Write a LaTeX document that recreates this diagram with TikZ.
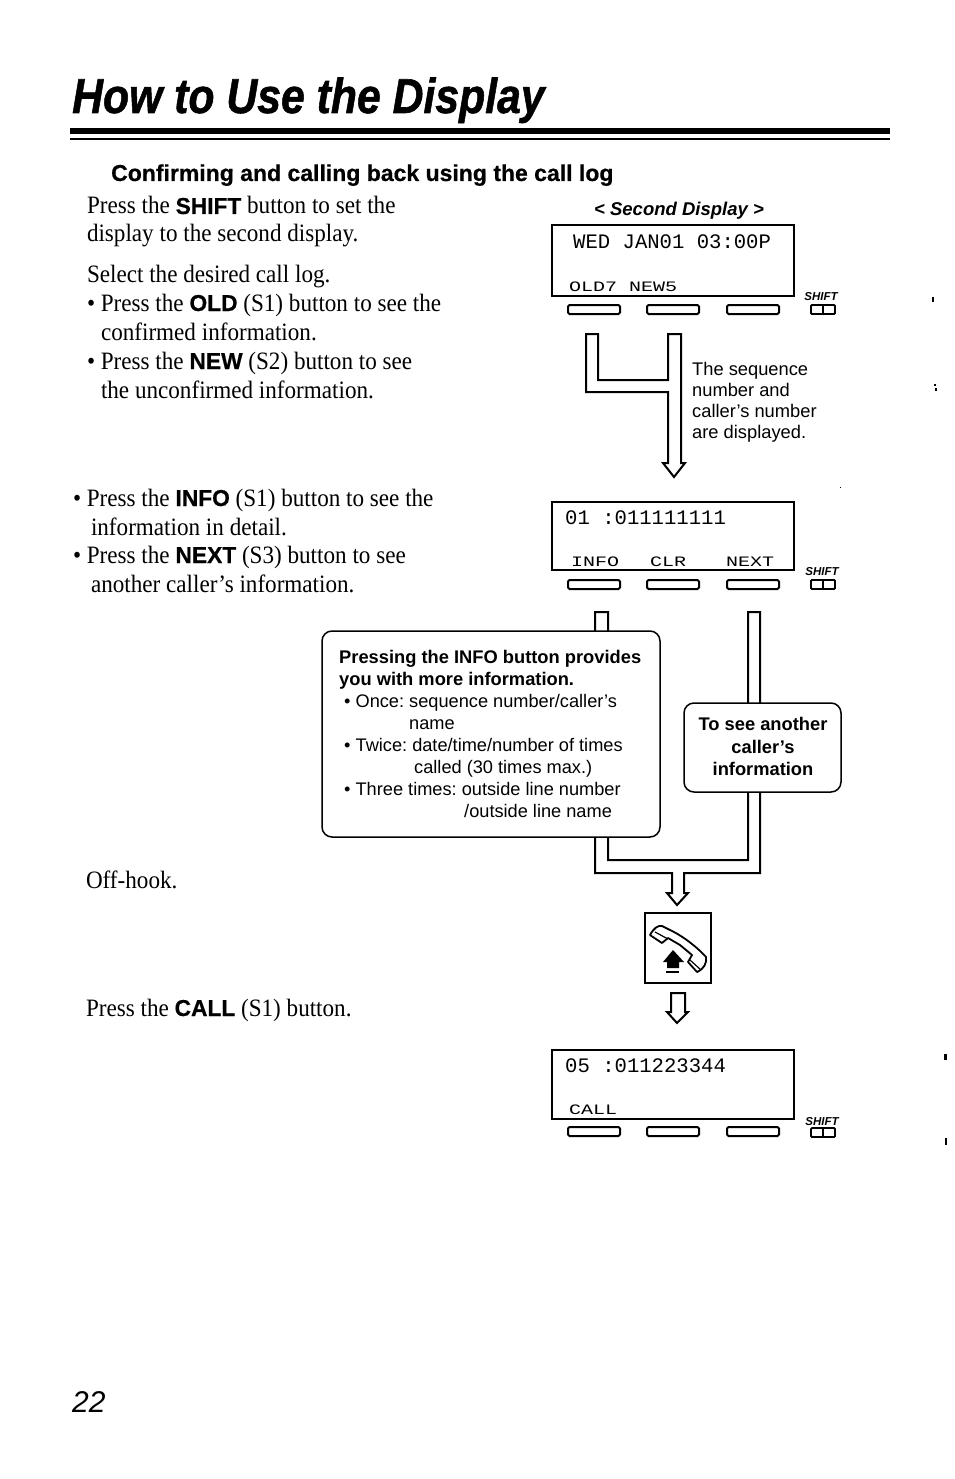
\documentclass[tikz,border=0pt]{standalone}
\usepackage{fontspec}
\setmainfont{Liberation Serif}
\setsansfont{Liberation Sans}
\setmonofont{Liberation Mono}
\frenchspacing
\newcommand{\bk}[1]{\scalebox{1.07}[1]{\fontsize{23}{29}\selectfont\sffamily\bfseries\addfontfeature{FakeBold=.6}#1}}
\tikzset{
  ln/.style={anchor=base west,inner sep=0pt,outer sep=0pt,xscale=.925,font=\fontsize{25}{29}\selectfont},
  lcdbox/.style={draw,line width=2pt,anchor=north west,minimum width=242pt,inner sep=0pt,outer sep=0pt},
  softkey/.style={draw,line width=2pt,rounded corners=1.5pt,minimum width=52pt,minimum height=9pt,inner sep=0pt,outer sep=0pt,anchor=north west},
  shiftkey/.style={draw,line width=1.8pt,rounded corners=1pt,minimum width=24pt,minimum height=9pt,inner sep=0pt,outer sep=0pt,anchor=north west},
  shiftlab/.style={anchor=center,inner sep=0pt,font=\sffamily\bfseries\itshape\fontsize{11.5}{11}\selectfont},
  lcdtop/.style={anchor=base west,inner sep=0pt,font=\ttfamily\fontsize{20.6}{20}\selectfont},
  lcdlow/.style={anchor=base west,inner sep=0pt,font=\ttfamily\fontsize{20}{20}\selectfont,yscale=.72},
  callout/.style={draw,line width=1.5pt,fill=white,rounded corners=10pt,anchor=north west,inner sep=0pt,outer sep=0pt},
  flow/.style={draw,line width=2pt,fill=white,line join=miter},
  sb/.style={anchor=base west,inner sep=0pt,font=\sffamily\bfseries\fontsize{18.3}{22}\selectfont},
  sr/.style={anchor=base west,inner sep=0pt,font=\sffamily\fontsize{18.2}{22}\selectfont},
  speck/.style={fill=black},
}
\begin{document}
\begin{tikzpicture}[x=1pt,y=-1pt]
\useasboundingbox (0,0) rectangle (954,1479);
% heading
\node[anchor=base west,inner sep=0pt,font=\sffamily\bfseries\itshape\fontsize{49}{50}\selectfont\addfontfeature{FakeBold=1.2},xscale=.872] (title) at (72,113) {How to Use the Display};
\fill (70,128) rectangle (890,134);
\fill (70,138.5) rectangle (890,140);
\node[anchor=base west,inner sep=0pt,font=\sffamily\bfseries\fontsize{23}{26}\selectfont\addfontfeature{FakeBold=.6}] (sec) at (111,181) {Confirming and calling back using the call log};
% left text
\node[ln] (l1) at (87,214) {Press the \bk{SHIFT} button to set the};
\node[ln] (l2) at (87,242) {display to the second display.};
\node[ln] (l3) at (87,282) {Select the desired call log.};
\node[ln] (l4) at (87,311) {• Press the \bk{OLD} (S1) button to see the};
\node[ln] (l5) at (101,340) {confirmed information.};
\node[ln] (l6) at (87,369) {• Press the \bk{NEW} (S2) button to see};
\node[ln] (l7) at (101,398) {the unconfirmed information.};
\node[ln] (l8) at (73,506) {• Press the \bk{INFO} (S1) button to see the};
\node[ln] (l9) at (91,535) {information in detail.};
\node[ln] (l10) at (73,563) {• Press the \bk{NEXT} (S3) button to see};
\node[ln] (l11) at (91,592) {another caller's information.};
\node[ln] (l12) at (86,888) {Off-hook.};
\node[ln] (l13) at (86,1016) {Press the \bk{CALL} (S1) button.};
\node[anchor=base west,inner sep=0pt,font=\sffamily\itshape\fontsize{30}{30}\selectfont] (page) at (72,1412) {22};
% display 1
\node[anchor=center,inner sep=0pt,font=\sffamily\bfseries\itshape\fontsize{18.5}{18}\selectfont] (sd) at (679,211) {< Second Display >};
\node[lcdbox,minimum height=71pt] (d1) at (552,225) {};
\node[lcdtop] (d1a) at (573,248) {WED JAN01 03:00P};
\node[lcdlow] (d1b) at (569,291) {OLD7 NEW5};
\node[softkey] (k11) at (568,305) {};
\node[softkey] (k12) at (647,305) {};
\node[softkey] (k13) at (727,305) {};
\node[shiftlab] (s1) at (821,297) {SHIFT};
\node[shiftkey] (sk1) at (811,305) {};
\draw[line width=1.4pt] (sk1.north) -- (sk1.south);
% arrow 1
\draw[flow] (586,334) -- (598,334) -- (598,380) -- (668,380) -- (668,334) -- (681,334) -- (681,463) -- (685,463) -- (674,477) -- (663,463) -- (668,463) -- (668,392) -- (586,392) -- cycle;
\node[anchor=north west,align=left,inner sep=0pt,font=\sffamily\fontsize{18.3}{21}\selectfont] (seq) at (692,362) {The sequence\\number and\\caller's number\\are displayed.};
% display 2
\node[lcdbox,minimum height=68pt] (d2) at (552,502) {};
\node[lcdtop] (d2a) at (565,524) {01 :011111111};
\node[lcdlow] (d2b) at (571,566) {INFO};
\node[lcdlow] (d2c) at (650,566) {CLR};
\node[lcdlow] (d2d) at (726,566) {NEXT};
\node[softkey] (k21) at (568,580) {};
\node[softkey] (k22) at (647,580) {};
\node[softkey] (k23) at (727,580) {};
\node[shiftlab] (s2) at (822,572) {SHIFT};
\node[shiftkey] (sk2) at (811,580) {};
\draw[line width=1.4pt] (sk2.north) -- (sk2.south);
% branching arrow
\draw[flow] (595,612) -- (608,612) -- (608,860) -- (748,860) -- (748,612) -- (760,612) -- (760,873) -- (684,873) -- (684,893) -- (688,893) -- (677,905) -- (667,893) -- (672,893) -- (672,873) -- (595,873) -- cycle;
% callouts
\node[callout,minimum width=338pt,minimum height=206pt] (info) at (322,631) {};
\node[sb] (i1) at (339,663) {Pressing the INFO button provides};
\node[sb] (i2) at (339,685) {you with more information.};
\node[sr] (i3) at (344,707) {• Once: sequence number/caller's};
\node[sr] (i4) at (409,729) {name};
\node[sr] (i5) at (344,751) {• Twice: date/time/number of times};
\node[sr] (i6) at (414,773) {called (30 times max.)};
\node[sr] (i7) at (344,795) {• Three times: outside line number};
\node[sr] (i8) at (464,817) {/outside line name};
\node[callout,minimum width=157pt,minimum height=89pt] (see) at (684,703) {};
\node[anchor=center,align=center,inner sep=0pt,font=\sffamily\bfseries\fontsize{18.3}{22.5}\selectfont] (seet) at (763,746.5) {To see another\\caller's\\information};
% phone
\node[draw,line width=2pt,anchor=north west,minimum width=66pt,minimum height=70pt,inner sep=0pt,outer sep=0pt] (hook) at (645,913) {};
\draw[line width=1.8pt,fill=white,line join=round] (650,935) .. controls (654,928) and (658,925) .. (662,926) -- (670,930) .. controls (685,937) and (700,950) .. (706,957) .. controls (707,963) and (704,969) .. (697,972) -- (688,962) -- (692,955) -- (680,945) -- (668,938) -- (662,943) -- cycle;
\draw[line width=1.2pt] (655,932) -- (668,939);
\draw[line width=1.2pt] (690,960) -- (701,970);
\fill (673,950) -- (684,962) -- (679,962) -- (679,968) -- (667,968) -- (667,962) -- (663,962) -- cycle;
\fill (666,971) rectangle (679,973);
% arrow 3
\draw[flow] (671,993) -- (685,993) -- (685,1012) -- (688,1012) -- (677,1023) -- (667,1012) -- (671,1012) -- cycle;
% display 3
\node[lcdbox,minimum height=69pt] (d3) at (552,1050) {};
\node[lcdtop] (d3a) at (565,1072) {05 :011223344};
\node[lcdlow] (d3b) at (569,1114) {CALL};
\node[softkey] (k31) at (568,1127) {};
\node[softkey] (k32) at (647,1127) {};
\node[softkey] (k33) at (727,1127) {};
\node[shiftlab] (s3) at (822,1122) {SHIFT};
\node[shiftkey] (sk3) at (811,1128) {};
\draw[line width=1.4pt] (sk3.north) -- (sk3.south);
% scan specks in the margin
\fill[speck] (932,297) rectangle (934,302);
\fill[speck] (934,384) rectangle (936,386);
\fill[speck] (935,388) rectangle (937,391);
\fill[speck] (840,487) rectangle (841,488);
\fill[speck] (944,1054) rectangle (947,1060);
\fill[speck] (945,1138) rectangle (947,1145);
\end{tikzpicture}
\end{document}
